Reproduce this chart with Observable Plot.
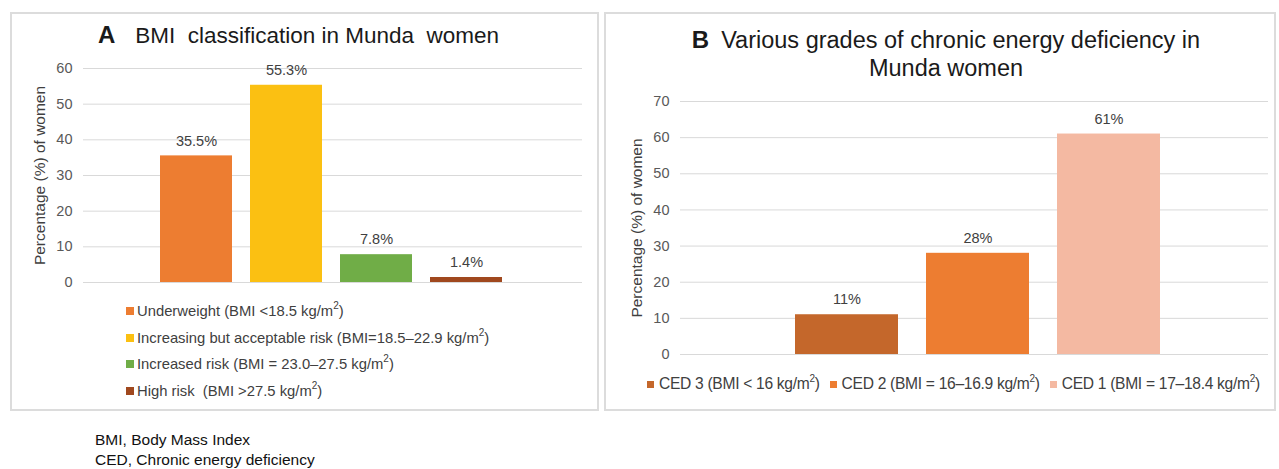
<!DOCTYPE html>
<html>
<head>
<meta charset="utf-8">
<script src="https://cdn.jsdelivr.net/npm/d3@7"></script>
<script src="https://cdn.jsdelivr.net/npm/@observablehq/plot@0.6"></script>
<style>
  html, body { margin: 0; padding: 0; background: #fff; }
  body { width: 1279px; height: 469px; position: relative; overflow: hidden; font-family: "Liberation Sans", Arial, sans-serif; }
  .panel { position: absolute; border: 2px solid #dcdcdc; box-sizing: border-box; }
  .title { position: absolute; text-align: center; color: #1a1a1a; line-height: 28px; }
  .title b { font-size: 24px; }
  .chart { position: absolute; }
  .legendA { position: absolute; font-size: 14.8px; color: #404040; }
  .legendA div { height: 26.5px; line-height: 20px; white-space: nowrap; }
  .legendB { position: absolute; font-size: 15.6px; color: #404040; white-space: nowrap; letter-spacing: -0.3px; }
  .legendB span.item { margin-right: 10px; }
  .legendB .sw { width: 7px; height: 7px; margin-right: 5px; }
  .sw { display: inline-block; width: 8px; height: 8px; margin-right: 3px; vertical-align: 1px; }
  sup { font-size: 10px; vertical-align: 7px; line-height: 0; }
  .foot { position: absolute; left: 95px; top: 430px; font-size: 15.5px; line-height: 20px; color: #111; }
</style>
</head>
<body>
<div class="panel" style="left:10px; top:12px; width:589px; height:399px;"></div>
<div class="panel" style="left:604px; top:12px; width:672px; height:399px;"></div>

<div class="title" style="left:4px; top:21px; width:589px; font-size:22.5px;"><b style="margin-right:20px">A</b>BMI&nbsp; classification in Munda&nbsp; women</div>
<div class="title" style="left:610px; top:26px; width:672px; font-size:23.5px;"><b style="margin-right:12px">B</b>Various grades of chronic energy deficiency in<br>Munda women</div>

<div id="chartA" class="chart" style="left:10px; top:50px;"></div>
<div id="chartB" class="chart" style="left:604px; top:85px;"></div>
<div id="legendA" class="legendA" style="left:126px; top:301px;"></div>
<div id="legendB" class="legendB" style="left:647px; top:375px;"></div>

<div class="foot">BMI, Body Mass Index<br>CED, Chronic energy deficiency</div>

<script>
// ---- Data: Panel A (BMI classification) ----
const bmiCategories = ["Underweight", "Increasing but acceptable risk", "Increased risk", "High risk"];
const bmiLegendLabels = [
  "Underweight (BMI <18.5 kg/m²)",
  "Increasing but acceptable risk (BMI=18.5–22.9 kg/m²)",
  "Increased risk (BMI = 23.0–27.5 kg/m²)",
  "High risk&nbsp; (BMI >27.5 kg/m²)"
];
const bmiValues = [35.5, 55.3, 7.8, 1.4];
const bmiColors = ["#ED7D31", "#FBC012", "#70AD47", "#A0481E"];
const bmiTicks = [0, 10, 20, 30, 40, 50, 60];

// ---- Data: Panel B (Chronic energy deficiency) ----
const cedCategories = ["CED 3", "CED 2", "CED 1"];
const cedLegendLabels = [
  "CED 3 (BMI < 16 kg/m²)",
  "CED 2 (BMI = 16–16.9 kg/m²)",
  "CED 1 (BMI = 17–18.4 kg/m²)"
];
const cedValues = [11, 28, 61];
const cedColors = ["#C4672B", "#ED7D31", "#F4B9A2"];
const cedTicks = [0, 10, 20, 30, 40, 50, 60, 70];

const yLabel = "Percentage (%) of women";
const fmtSup = s => s.replace("²", "<sup>2</sup>");

const bmiData = bmiCategories.map((c, i) => ({cat: c, value: bmiValues[i], label: bmiValues[i].toFixed(1) + "%"}));
const cedData = cedCategories.map((c, i) => ({cat: c, value: cedValues[i], label: cedValues[i] + "%"}));

const baseStyle = {fontFamily: "Liberation Sans, Arial, sans-serif", fontSize: "14.5px", color: "#595959", background: "transparent", overflow: "visible"};

function makeChart({data, cats, colors, ticks, domainMax, width, height, marginLeft, marginRight, marginTop, marginBottom, paddingInner, paddingOuter, align}) {
  return Plot.plot({
    width, height, marginLeft, marginRight, marginTop, marginBottom,
    style: baseStyle,
    x: {domain: cats, paddingInner, paddingOuter, align, axis: null},
    y: {domain: [0, domainMax], axis: null},
    color: {domain: cats, range: colors},
    marks: [
      Plot.ruleY(ticks, {stroke: "#d9d9d9", strokeWidth: 1}),
      Plot.axisY(ticks, {tickSize: 0, tickPadding: 11, label: null, fill: "#595959", fontSize: 14.5}),
      Plot.barY(data, {x: "cat", y: "value", fill: "cat"}),
      Plot.text(data, {x: "cat", y: "value", text: "label", dy: -15, fill: "#404040", fontSize: 14.5}),
      Plot.text([yLabel], {frameAnchor: "left", textAnchor: "middle", rotate: -90, dx: -43, fill: "#404040", fontSize: 15.5})
    ]
  });
}

document.getElementById("chartA").append(makeChart({
  data: bmiData, cats: bmiCategories, colors: bmiColors, ticks: bmiTicks, domainMax: 60,
  width: 588, height: 250, marginLeft: 73, marginRight: 16, marginTop: 18, marginBottom: 18,
  paddingInner: 0.204, paddingOuter: 0.859, align: 0.49
}));

document.getElementById("chartB").append(makeChart({
  data: cedData, cats: cedCategories, colors: cedColors, ticks: cedTicks, domainMax: 70,
  width: 671, height: 285, marginLeft: 76, marginRight: 7, marginTop: 16, marginBottom: 16,
  paddingInner: 0.217, paddingOuter: 0.844, align: 0.516
}));

// Legends
const legA = document.getElementById("legendA");
bmiLegendLabels.forEach((t, i) => {
  const d = document.createElement("div");
  d.innerHTML = `<span class="sw" style="background:${bmiColors[i]}"></span>${fmtSup(t)}`;
  legA.append(d);
});
const legB = document.getElementById("legendB");
cedLegendLabels.forEach((t, i) => {
  const s = document.createElement("span");
  s.className = "item";
  s.innerHTML = `<span class="sw" style="background:${cedColors[i]}"></span>${fmtSup(t)}`;
  legB.append(s);
});
</script>
</body>
</html>
